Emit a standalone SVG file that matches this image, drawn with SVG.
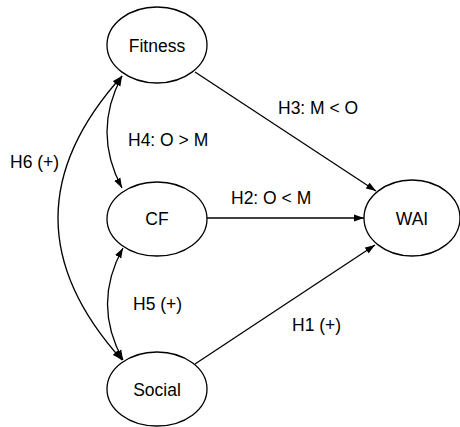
<svg xmlns="http://www.w3.org/2000/svg" width="460" height="427" viewBox="0 0 460 427">
<style>
.node ellipse{fill:#fff;stroke:#000;stroke-width:1.3}
text{font-family:"Liberation Sans",Arial,sans-serif;font-size:17.5px;fill:#000}
.node text{text-anchor:middle}
.edge{fill:none;stroke:#000;stroke-width:1.3}
</style>
<defs>
<marker id="ah" markerUnits="userSpaceOnUse" markerWidth="10" markerHeight="8" refX="10" refY="4" orient="auto-start-reverse"><path d="M0,0.5 L10,4 L0,7.5 z" fill="#000"/></marker>
</defs>
<g id="connectors">
<path class="edge" d="M195,72 L376,191" marker-end="url(#ah)"/>
<path class="edge" d="M207,218 L364,218" marker-end="url(#ah)"/>
<path class="edge" d="M195,364 L375,245" marker-end="url(#ah)"/>
<path class="edge" d="M122,76 Q92,132 122,188" marker-start="url(#ah)" marker-end="url(#ah)"/>
<path class="edge" d="M123,248 Q92,304 123,360" marker-start="url(#ah)" marker-end="url(#ah)"/>
<path class="edge" d="M122,76 Q-6,218 122,360" marker-start="url(#ah)" marker-end="url(#ah)"/>
<text x="278" y="114">H3: M &lt; O</text>
<text x="128" y="146">H4: O &gt; M</text>
<text x="10" y="168">H6 (+)</text>
<text x="231" y="204">H2: O &lt; M</text>
<text x="133" y="310">H5 (+)</text>
<text x="292" y="331">H1 (+)</text>
</g>
<g id="fitness" class="node"><ellipse cx="157" cy="45" rx="50" ry="38"/><text x="157" y="52">Fitness</text></g>
<g id="cf" class="node"><ellipse cx="157" cy="219" rx="50" ry="37"/><text x="157" y="225">CF</text></g>
<g id="social" class="node"><ellipse cx="157" cy="389" rx="50" ry="37"/><text x="157" y="396">Social</text></g>
<g id="wai" class="node"><ellipse cx="412" cy="218" rx="48" ry="38"/><text x="412" y="225">WAI</text></g>
</svg>
